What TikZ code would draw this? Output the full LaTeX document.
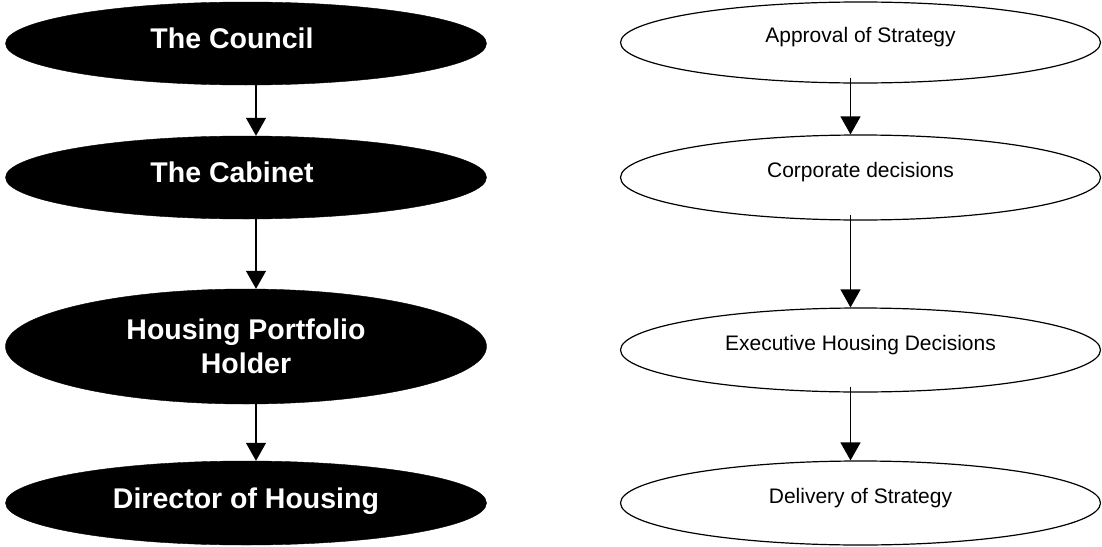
\documentclass[tikz,border=0pt]{standalone}
\usepackage{fontspec}
\setmainfont{Liberation Sans}
\usetikzlibrary{shapes.geometric,arrows.meta}

\tikzset{
  darkoval/.style={ellipse, fill=black, draw=black, text=white, minimum width=481pt, minimum height=83pt, inner sep=0pt, align=center, text height=20.5pt, text depth=10.5pt, font=\fontsize{28.5}{34}\selectfont\bfseries},
  lightoval/.style={ellipse, draw=black, line width=1.2pt, fill=white, minimum width=480pt, minimum height=81pt, inner sep=0pt, text height=15pt, text depth=15pt, font=\fontsize{21}{25}\selectfont},
  flow/.style={-{Triangle[width=20pt,length=18pt]}, line width=1.2pt},
}

\begin{document}
\begin{tikzpicture}[x=1pt,y=-1pt]
        \useasboundingbox (0,0) rectangle (1102,546);
        % who decides
        \node[darkoval] (council) at (246,43.5) {The Council\hspace{28pt}};
        \node[darkoval] (cabinet) at (246,177.5) {The Cabinet\hspace{28pt}};
        \node[darkoval, minimum height=115pt, text height=, text depth=] (portfolio) at (246,346.5) {Housing Portfolio\\Holder};
        \node[darkoval, minimum height=84pt] (director) at (246,503) {Director of Housing};
        \draw[flow] ([xshift=10pt]council.south) -- ([xshift=10pt]cabinet.north);
        \draw[flow] ([xshift=10pt]cabinet.south) -- ([xshift=10pt]portfolio.north);
        \draw[flow] ([xshift=10pt]portfolio.south) -- ([xshift=10pt]director.north);

        % what they decide
        \node[lightoval] (approval) at (860.5,42.5) {Approval of Strategy};
        \node[lightoval, minimum height=85pt] (corporate) at (860.5,177.5) {Corporate decisions};
        \node[lightoval, minimum height=84pt] (executive) at (860.5,350) {Executive Housing Decisions};
        \node[lightoval, minimum height=84pt] (delivery) at (860.5,503) {Delivery of Strategy};
        \draw[flow] ([xshift=-10pt,yshift=6pt]approval.south) -- ([xshift=-10pt]corporate.north);
        \draw[flow] ([xshift=-10pt,yshift=6pt]corporate.south) -- ([xshift=-10pt]executive.north);
        \draw[flow] ([xshift=-10pt,yshift=6pt]executive.south) -- ([xshift=-10pt]delivery.north);
      \end{tikzpicture}
\end{document}
